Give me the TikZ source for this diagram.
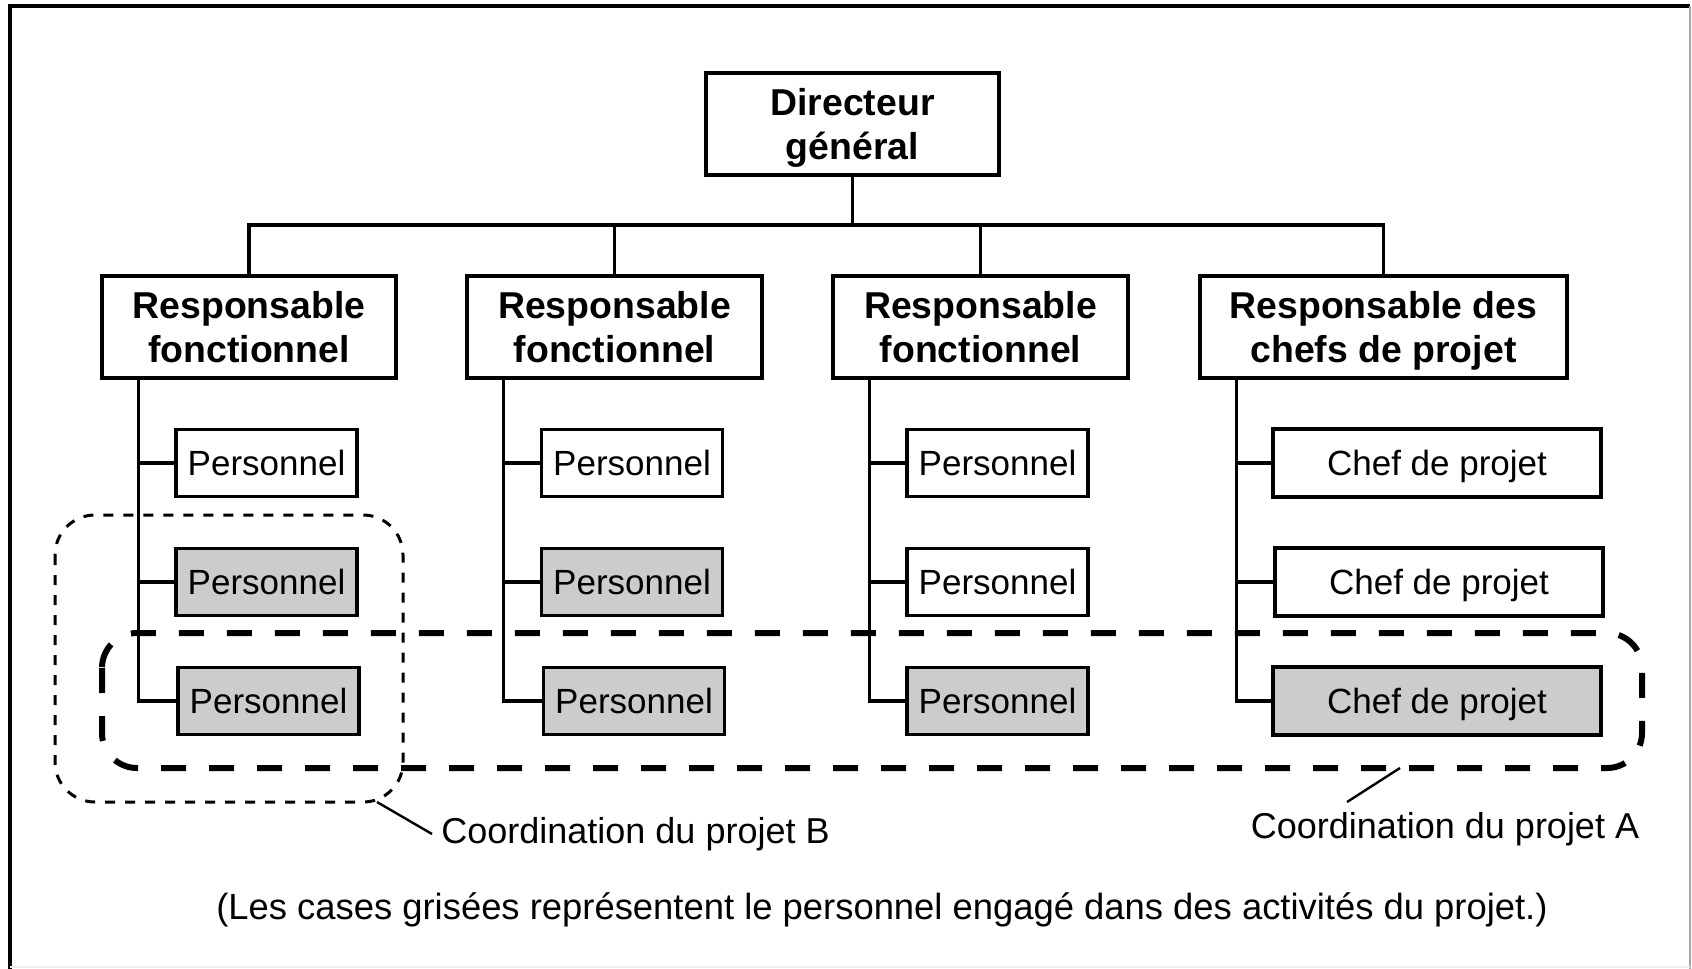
\documentclass[tikz,border=0pt]{standalone}
\usepackage{fontspec}
\setmainfont{Liberation Sans}
\tikzset{
  box/.style={draw, line width=1.6pt, inner sep=0pt, align=center, font=\fontsize{17.5}{22}\selectfont},
  head/.style={box, minimum height=51pt, font=\fontsize{18.7}{22}\selectfont\bfseries},
  pers/.style={box, minimum width=90.5pt, minimum height=33.5pt, text height=12.8pt, text depth=0.5pt},
  chef/.style={box, minimum width=164pt, minimum height=34pt, text height=12.8pt, text depth=0.5pt},
  grise/.style={fill=gray!40},
  conn/.style={line width=1.6pt},
  projA/.style={line width=3pt, dash pattern=on 12.5pt off 11.5pt, rounded corners=17.5pt},
  projB/.style={line width=1.5pt, dash pattern=on 5pt off 5pt, rounded corners=20pt},
  txt/.style={font=\fontsize{18}{22}\selectfont, inner sep=0pt}
}

\begin{document}
\begin{tikzpicture}[x=0.5pt, y=-0.5pt]
\useasboundingbox (0,0) rectangle (1692,969);
\draw[line width=2pt] (10,969) -- (10,6) -- (1690,6);
\draw[gray!70, line width=1pt] (1690,6) -- (1690,969);
\draw[gray!15, line width=1pt] (10,967) -- (1690,967);

\node[head, minimum width=146.5pt, text depth=0pt] (dg) at (852.5,124) {Directeur\\général};
\node[head, minimum width=147pt] (h1) at (249,327) {Responsable\\fonctionnel};
\node[head, minimum width=147.5pt] (h2) at (614.5,327) {Responsable\\fonctionnel};
\node[head, minimum width=147.5pt] (h3) at (980.5,327) {Responsable\\fonctionnel};
\node[head, minimum width=183.5pt, text depth=0pt] (h4) at (1383.5,327) {Responsable des\\chefs de projet};

\node[pers] (p11) at (266.5,463) {Personnel};
\node[pers, grise] (p12) at (266.5,582) {Personnel};
\node[pers, grise] (p13) at (268.5,701) {Personnel};
\node[pers] (p21) at (632,463) {Personnel};
\node[pers, grise] (p22) at (632,582) {Personnel};
\node[pers, grise] (p23) at (634,701) {Personnel};
\node[pers] (p31) at (997.5,463) {Personnel};
\node[pers] (p32) at (997.5,582) {Personnel};
\node[pers, grise] (p33) at (997.5,701) {Personnel};
\node[chef] (p41) at (1437,463) {Chef de projet};
\node[chef] (p42) at (1439,582) {Chef de projet};
\node[chef, grise] (p43) at (1437,701) {Chef de projet};

\coordinate (bar) at (0,225);
\draw[conn] (h1.north) -- (h1.north |- bar) -- (h4.north |- bar) -- (h4.north);
\foreach \n in {dg.south, h2.north, h3.north}
  \draw[conn] (\n) -- (\n |- bar);
\foreach \c in {1,...,4} {
  \coordinate (s\c) at ([xshift=19pt]h\c.south west);
  \draw[conn] (s\c) |- (p\c3.west);
  \draw[conn] (s\c |- p\c1.west) -- (p\c1.west);
  \draw[conn] (s\c |- p\c2.west) -- (p\c2.west);
}

\draw[projA] (102,633) rectangle (1642,768);
\draw[projB] (55,515) rectangle (403,802);

\node[txt, anchor=west, inner xsep=4.5pt] (labB) at (432,834) {Coordination du projet B};
\coordinate (cB) at (377,802);
\draw[line width=1.2pt] (cB) -- (labB.west);
\node[txt] (labA) at (1445,829) {Coordination du projet A};
\coordinate (cA) at (1400,768);
\coordinate (tipA) at (1347,802);
\draw[line width=1.2pt] (cA) -- (tipA);

\node[txt, font=\fontsize{18.2}{22}\selectfont] (note) at (882,910) {(Les cases grisées représentent le personnel engagé dans des activités du projet.)};
\end{tikzpicture}
\end{document}
